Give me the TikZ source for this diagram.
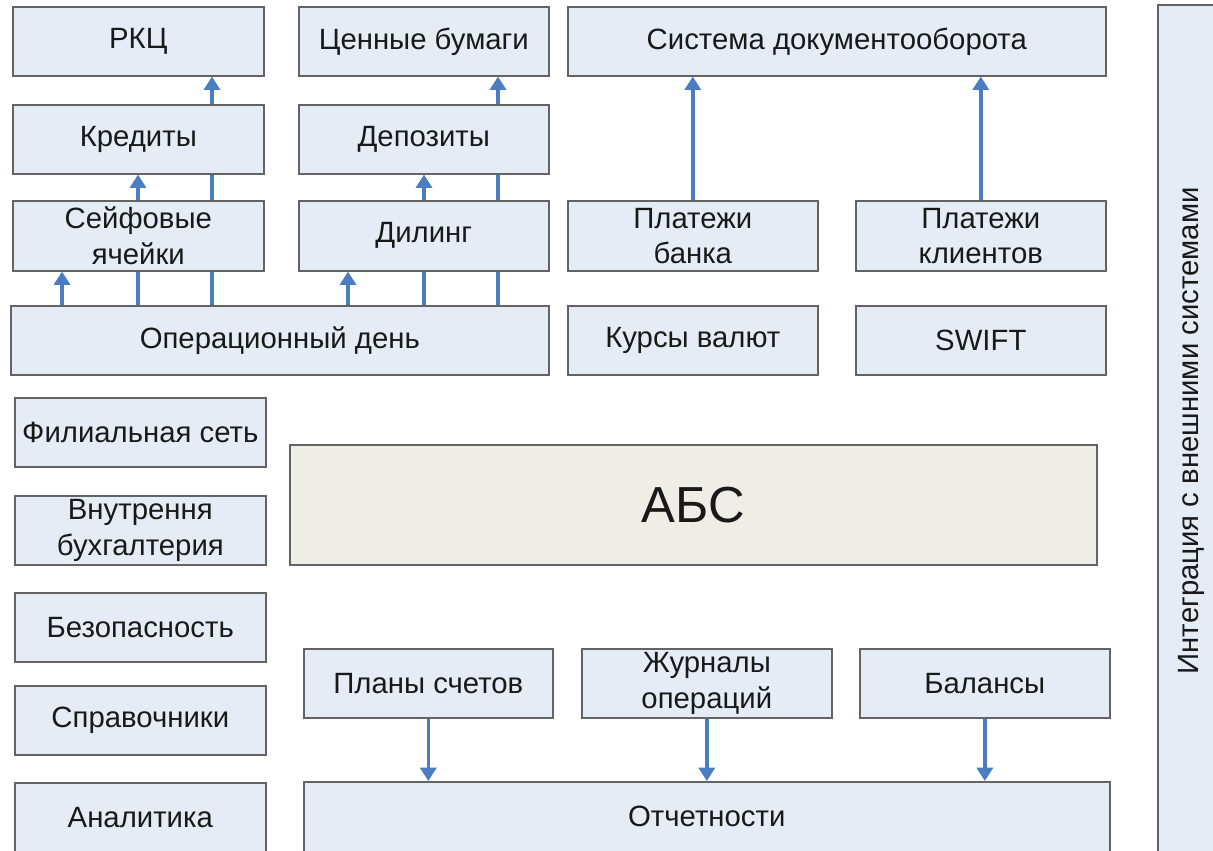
\documentclass[tikz,border=0pt]{standalone}
\usepackage{fontspec}
\setmainfont{Liberation Sans}
\usetikzlibrary{arrows.meta}
\definecolor{boxfill}{RGB}{230,236,246}
\definecolor{absfill}{RGB}{238,238,230}
\definecolor{boxline}{RGB}{100,100,100}
\definecolor{arrowblue}{RGB}{74,126,193}
\definecolor{txt}{RGB}{25,25,25}
\pgfdeclarelayer{bg}
\pgfsetlayers{bg,main}
\tikzset{
  box/.style={draw=boxline, line width=1.2pt, fill=boxfill, inner sep=0pt,
    text=txt, align=center, font=\fontsize{22}{26.5}\selectfont},
  absbox/.style={box, fill=absfill, font=\fontsize{38}{44}\selectfont},
  % place a box by its upper-left and lower-right corners (in px)
  span/.style args={#1/#2/#3/#4}{anchor=north west, at={(#1,#2)},
    minimum width={(#3-#1)*0.75pt}, minimum height={(#4-#2)*0.75pt}},
  flow/.style={draw=arrowblue, line width=2.6pt,
    -{Triangle[width=12pt,length=10pt]}},
}
\begin{document}
\begin{tikzpicture}[x=0.75pt,y=-0.75pt]
\useasboundingbox (0,0) rectangle (1213,850);
\clip (0,0) rectangle (1213,850);

% top row
\node[box, span=12/6/263/75] (rkc) {РКЦ};
\node[box, span=298/6/548/75] (cb) {Ценные бумаги};
\node[box, span=567/6/1105/75] (sdo) {Система документооборота};

% second row
\node[box, span=12/104/263/173] (kred) {Кредиты};
\node[box, span=298/104/548/173] (dep) {Депозиты};

% third row
\node[box, span=12/200/263/270] (sey) {Сейфовые\\ячейки};
\node[box, span=298/200/548/270] (dil) {Дилинг};
\node[box, span=567/200/817/270] (pb) {Платежи\\банка};
\node[box, span=855/200/1105/270] (pk) {Платежи\\клиентов};

% fourth row
\node[box, span=10/305/548/374] (od) {Операционный день};
\node[box, span=567/305/817/374] (kv) {Курсы валют};
\node[box, span=855/305/1105/374] (swift) {SWIFT};

% left column
\node[box, span=14/397/265/466] (fil) {Филиальная сеть};
\node[box, span=14/495/265/564] (vb) {Внутрення\\бухгалтерия};
\node[box, span=14/592/265/661] (bez) {Безопасность};
\node[box, span=14/685/265/754] (spr) {Справочники};
\node[box, span=14/782/265/851] (an) {Аналитика};

% core system
\node[absbox, span=289/444/1096/564] (abs) {АБС};

% reporting
\node[box, span=303/648/552/717] (plan) {Планы счетов};
\node[box, span=581/648/831/717] (jur) {Журналы\\операций};
\node[box, span=859/648/1109/717] (bal) {Балансы};
\node[box, span=303/781/1109/851] (otch) {Отчетности};

% integration strip on the right
\node[box, span=1157/4/1225/856] (integ) {};
\node[rotate=90, text=txt, font=\fontsize{22}{26}\selectfont] (integt) at (integ.center) {Интеграция с внешними системами};

% columns of the links leaving the operational day
\coordinate (c1) at (62,0);
\coordinate (c2) at (138,0);
\coordinate (c3) at (212,0);
\coordinate (c4) at (348,0);
\coordinate (c5) at (424,0);
\coordinate (c6) at (498,0);

\begin{pgfonlayer}{bg}
  \draw[flow] (od.north -| c1) -- (sey.south -| c1);
  \draw[flow] (od.north -| c2) -- (kred.south -| c2);
  \draw[flow] (od.north -| c3) -- (rkc.south -| c3);
  \draw[flow] (od.north -| c4) -- (dil.south -| c4);
  \draw[flow] (od.north -| c5) -- (dep.south -| c5);
  \draw[flow] (od.north -| c6) -- (cb.south -| c6);
\end{pgfonlayer}

\draw[flow] (pb.north) -- (pb.north |- sdo.south);
\draw[flow] (pk.north) -- (pk.north |- sdo.south);
\draw[flow] (plan.south) -- (plan.south |- otch.north);
\draw[flow] (jur.south) -- (jur.south |- otch.north);
\draw[flow] (bal.south) -- (bal.south |- otch.north);
\end{tikzpicture}
\end{document}
